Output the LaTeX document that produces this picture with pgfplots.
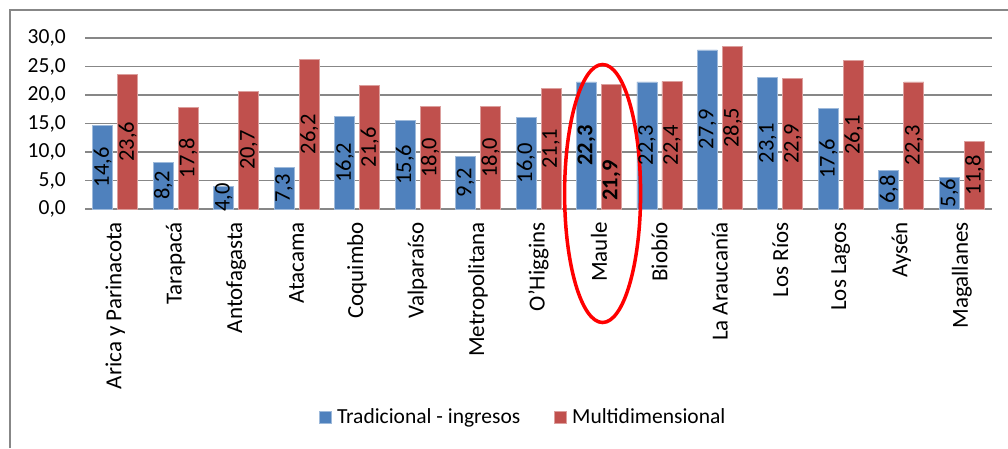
\documentclass[border=0pt]{standalone}
\usepackage{fontspec}
\setmainfont{Carlito}
\usepackage{pgfplots}
\pgfplotsset{compat=1.18}
\definecolor{trad}{HTML}{4F81BD}
\definecolor{multi}{HTML}{C0504D}
\definecolor{gridc}{HTML}{878787}
\newcommand\fnt{\fontsize{21.5}{25}\selectfont}
\newcommand\xfnt{\fontsize{23}{27}\selectfont}
\newcommand\lfnt{\fontsize{22.5}{26}\selectfont}
\begin{document}
\begin{tikzpicture}[x=1pt,y=1pt]
\path[use as bounding box] (0,0) rectangle (1008,-448);
\draw[gridc, line width=2pt] (9.5,-448) -- (9.5,-9.5) -- (1008,-9.5);
\begin{axis}[
  at={(85pt,-209pt)}, anchor=south west,
  scale only axis, width=907pt, height=171pt,
  ymin=0, ymax=30, ytick={0,5,10,15,20,25,30},
  xmin=-0.5, xmax=14.5, xtick={0,...,14},
  xticklabels={Arica y Parinacota,Tarapacá,Antofagasta,Atacama,Coquimbo,Valparaíso,Metropolitana,O'Higgins,Maule,Biobío,La Araucanía,Los Ríos,Los Lagos,Aysén,Magallanes},
  axis line style={draw=none},
  major tick length=0pt,
  ymajorgrids, major grid style={gridc, line width=1.5pt},
  clip=false,
  yticklabel style={font=\fnt, inner sep=0pt, /pgf/number format/.cd, fixed, fixed zerofill, precision=1, use comma, assume math mode=true},
  yticklabel shift=19pt,
  xticklabel style={font=\xfnt, rotate=90, anchor=east, inner sep=0pt},
  xticklabel shift=13pt,
  legend image code/.code={\fill[#1] (0pt,-6pt) rectangle (12pt,6pt);},
  legend style={at={(0.258,-1.216)}, anchor=west, draw=none, fill=none,
    legend columns=2, font=\fnt, inner sep=0pt, nodes={inner sep=0pt},
    /tikz/every odd column/.append style={column sep=5pt},
    /tikz/every even column/.append style={column sep=34pt}},
  visualization depends on=rawy \as \rawy,
]
\addplot[ybar, bar width=20pt, bar shift=-12.5pt, fill=trad, draw=trad!55!white, line width=0.8pt,
  point meta=explicit symbolic, nodes near coords,
  every node near coord/.append style={font=\lfnt, text=black, shift={(axis direction cs:0,-\rawy/2)}, xshift=-12.5pt, rotate=90, anchor=center, inner sep=0pt}]
  table[x=x, y=v, meta=lab] {
x v lab
0 14.6 14,6
1 8.2 8,2
2 4.0 4,0
3 7.3 7,3
4 16.2 16,2
5 15.6 15,6
6 9.2 9,2
7 16.0 16,0
8 22.3 \textbf{22,3}
9 22.3 22,3
10 27.9 27,9
11 23.1 23,1
12 17.6 17,6
13 6.8 6,8
14 5.6 5,6
};
\addlegendentry{Tradicional - ingresos}
\addplot[ybar, bar width=20pt, bar shift=12.5pt, fill=multi, draw=multi!55!white, line width=0.8pt,
  point meta=explicit symbolic, nodes near coords,
  every node near coord/.append style={font=\lfnt, text=black, shift={(axis direction cs:0,-\rawy/2)}, xshift=12.5pt, rotate=90, anchor=center, inner sep=0pt}]
  table[x=x, y=v, meta=lab] {
x v lab
0 23.6 23,6
1 17.8 17,8
2 20.7 20,7
3 26.2 26,2
4 21.6 21,6
5 18.0 18,0
6 18.0 18,0
7 21.1 21,1
8 21.9 \textbf{21,9}\kern68pt
9 22.4 22,4
10 28.5 28,5
11 22.9 22,9
12 26.1 26,1
13 22.3 22,3
14 11.8 11,8
};
\addlegendentry{Multidimensional}
\draw[red, line width=3.5pt] (axis cs:8.06,2.72) ellipse [x radius=38pt, y radius=129pt];
\end{axis}
\end{tikzpicture}
\end{document}
